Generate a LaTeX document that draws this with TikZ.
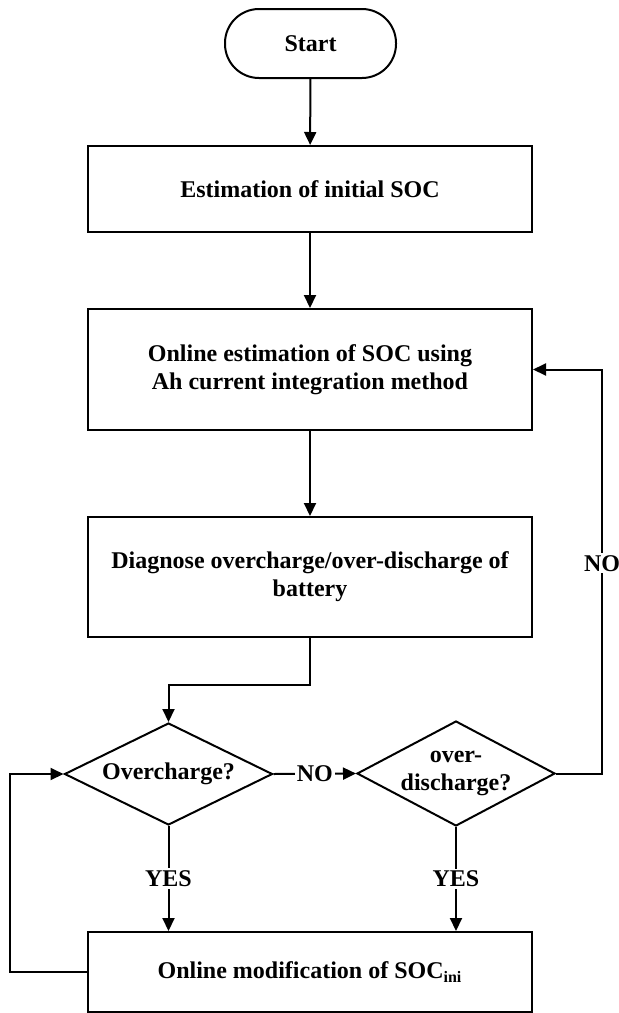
\documentclass[tikz,border=0pt]{standalone}
\usepackage{fontspec}
\setmainfont{Liberation Serif}
\usetikzlibrary{shapes.geometric,arrows.meta}

\begin{document}
\begin{tikzpicture}[x=0.5pt, y=-0.5pt, line width=1pt,
  font=\fontsize{12}{14}\selectfont\bfseries,
  box/.style={draw, rectangle, minimum width=222pt, align=center},
  decide/.style={draw, diamond, inner sep=-12pt, align=center},
  arr/.style={-{Triangle[length=6.5pt, width=6pt]}},
  lbl/.style={fill=white, inner sep=1pt}]

\useasboundingbox (0,0) rectangle (619,1013);

% Blocks
\node[draw, rounded corners=17pt, minimum width=85.5pt, minimum height=34.5pt] (start) at (310.5,43.5) {Start};
\node[box, minimum height=43pt] (init) at (310,189) {Estimation of initial SOC};
\node[box, minimum height=60.5pt] (online) at (310,369.5) {Online estimation of SOC using\\Ah current integration method};
\node[box, minimum height=60pt] (diag) at (310,577) {Diagnose overcharge/over-discharge of\\battery};

% Decisions
\node[decide, minimum width=104pt, minimum height=51pt] (over) at (168.5,774) {Overcharge?};
\node[decide, minimum width=99pt, minimum height=52.5pt] (odis) at (456,773.5) {over-\\discharge?};

\node[box, minimum height=40pt] (modif) at (310,972) {Online modification of SOC\textsubscript{ini}};

\coordinate (rt) at (602,369.5);

% Connectors
\draw[arr] (start) -- (init);
\draw[arr] (init) -- (online);
\draw[arr] (online) -- (diag);
\draw[arr] (diag.south) -- ++(0,47) -| (over.north);
\draw[arr] (over.east) -- node[lbl] {NO} (odis.west);
\draw[arr] (odis.east) -| node[lbl, pos=0.76] {NO} (rt) -- (online.east);
\draw[arr] (over.south) -- node[lbl] {YES} (over.south |- modif.north);
\draw[arr] (odis.south) -- node[lbl] {YES} (odis.south |- modif.north);
\draw[arr] (modif.west) -- ++(-77,0) |- (over.west);

\end{tikzpicture}
\end{document}
